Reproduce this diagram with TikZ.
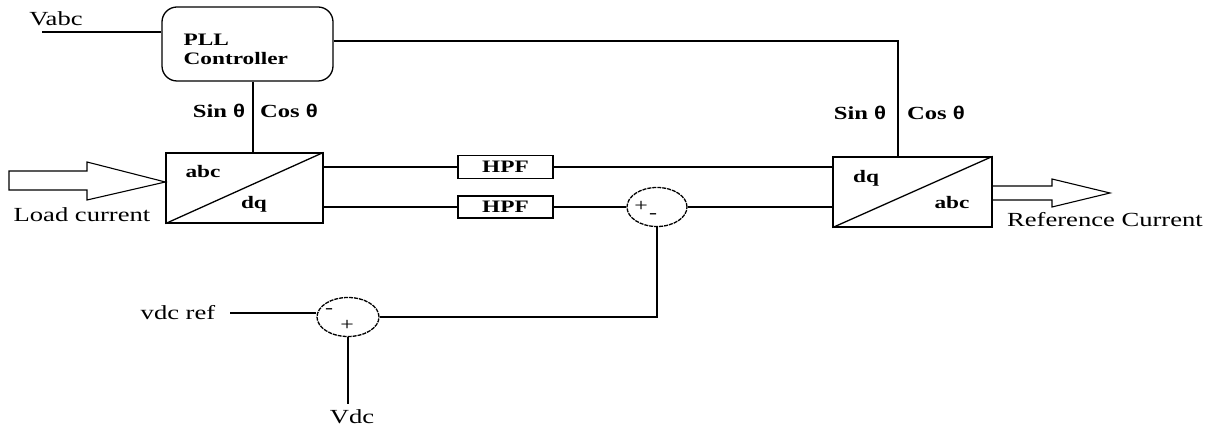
\documentclass[tikz,border=0pt]{standalone}
\usepackage{fontspec}
\setmainfont{Liberation Serif}[FakeStretch=1.33]
\newfontfamily\thsans{Liberation Sans}[FakeStretch=1.2]
\usetikzlibrary{shapes.geometric}
\begin{document}
\begin{tikzpicture}[x=1pt,y=-1pt,line width=1.3pt,
  lbl/.style={inner sep=0pt,font=\fontsize{20}{22}\selectfont},
  blbl/.style={inner sep=0pt,font=\fontsize{17.5}{19}\selectfont\bfseries},
  tlbl/.style={inner sep=0pt,font=\fontsize{18.5}{20}\selectfont\bfseries},
  sgn/.style={inner sep=0pt,font=\fontsize{18}{19}\selectfont},
  blk/.style={draw,rectangle,inner sep=0pt},
  sumj/.style={draw,dash pattern=on 4pt off 1pt,ellipse,inner sep=0pt,minimum width=60pt,minimum height=39pt},
  hollow/.style={draw,line width=1.1pt,line join=miter}]
\useasboundingbox (0,0) rectangle (1213,427);
% blocks
\node[blk,rounded corners=15pt,minimum width=171pt,minimum height=74pt] (pll) at (247.5,44) {};
\node[blbl,anchor=west,align=left] (plltxt) at (183,49) {PLL\\Controller};
\node[blk,minimum width=157pt,minimum height=70pt] (abc1) at (244.5,188) {};
\node[blk,minimum width=159pt,minimum height=70pt] (abc2) at (912.5,192) {};
\node[blk,minimum width=95pt,minimum height=23pt,blbl] (hpf1) at (505.5,167) {HPF};
\node[blk,minimum width=95pt,minimum height=22pt,blbl] (hpf2) at (505.5,207) {HPF};
\node[sumj] (sum1) at (657,207) {};
\node[sumj,minimum width=62pt] (sum2) at (348,317) {};
% inner labels
\node[blbl] (t1) at (203,172) {abc};
\node[blbl] (t2) at (254,204) {dq};
\node[blbl] (t3) at (866,178) {dq};
\node[blbl] (t4) at (952,203) {abc};
\node[sgn] (p1) at (641,206) {+};
\node[sgn] (m1) at (653,216) {-};
\node[sgn] (m2) at (329,311) {-};
\node[sgn] (p2) at (347,325) {+};
\draw (abc1.south west) -- (abc1.north east);
\draw (abc2.south west) -- (abc2.north east);
% text labels
\node[lbl] (vabc) at (56,19) {Vabc};
\node[tlbl] (sin1) at (219,111) {Sin {\thsans θ}};
\node[tlbl] (cos1) at (289,111) {Cos {\thsans θ}};
\node[tlbl] (sin2) at (860,113) {Sin {\thsans θ}};
\node[tlbl] (cos2) at (936,113) {Cos {\thsans θ}};
\node[lbl] (load) at (82,215) {Load current};
\node[lbl] (refc) at (1105,220) {Reference Current};
\node[lbl] (vref) at (178,313) {vdc ref};
\node[lbl] (vdc) at (352,417) {Vdc};
% coordinates
\coordinate (vin) at (42,32);
\coordinate (pllx) at (253,0);
\coordinate (rail) at (898,41);
\coordinate (vrefend) at (230,313);
\coordinate (vdcend) at (349,404);
% connectors
\draw (vin) -- (vin -| pll.west);
\draw (pll.south -| pllx) -- (abc1.north -| pllx);
\draw (rail -| pll.east) -- (rail) -- (rail |- abc2.north);
\draw (abc1.east |- hpf1.west) -- (hpf1.west);
\draw (hpf1.east) -- (hpf1.east -| abc2.west);
\draw (abc1.east |- hpf2.west) -- (hpf2.west);
\draw (hpf2.east) -- (sum1.west);
\draw (sum1.east) -- (sum1.east -| abc2.west);
\draw (sum1.south) -- (sum1.south |- sum2.east) -- (sum2.east);
\draw (vrefend) -- (vrefend -| sum2.west);
\draw (sum2.south) -- (sum2.south |- vdcend);
% hollow arrows
\draw[hollow] (9,171) -- (87,171) -- (87,162) -- (abc1.west |- 0,182) -- (87,200) -- (87,190) -- (9,190) -- cycle;
\draw[hollow] (abc2.east |- 0,186) -- (1052,186) -- (1052,179) -- (1110,193) -- (1052,207) -- (1052,200) -- (abc2.east |- 0,200);
\end{tikzpicture}
\end{document}
